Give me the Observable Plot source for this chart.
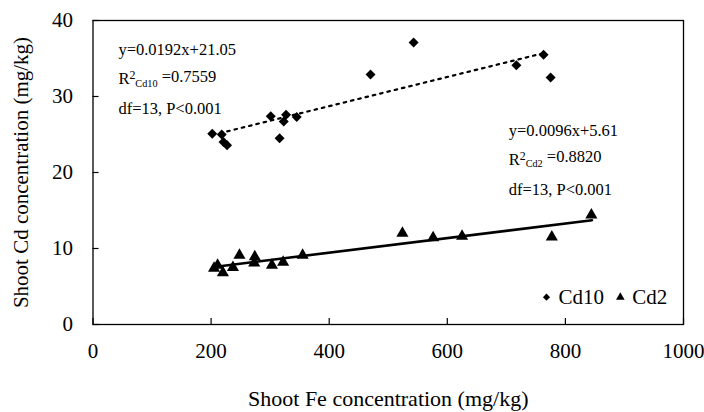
<!DOCTYPE html>
<html>
<head>
<meta charset="utf-8">
<script src="https://cdn.jsdelivr.net/npm/d3@7"></script>
<script src="https://cdn.jsdelivr.net/npm/@observablehq/plot@0.6"></script>
<style>
  html, body { margin: 0; padding: 0; background: #fff; }
  #chart svg { display: block; }
</style>
</head>
<body>
<div id="chart"></div>
<script>
// ---- data ----
const xTicks = [0, 200, 400, 600, 800, 1000];
const yTicks = [0, 10, 20, 30, 40];

const cd10Fe = [202, 218, 221, 227, 301, 316, 323, 327, 345, 470, 543, 717, 763, 775];
const cd10Cd = [25.1, 25.0, 24.0, 23.6, 27.4, 24.5, 26.7, 27.6, 27.3, 32.9, 37.1, 34.1, 35.5, 32.5];

const cd2Fe = [205, 211, 220, 237, 248, 273, 274, 303, 322, 355, 524, 576, 625, 777, 844];
const cd2Cd = [7.4, 7.8, 6.8, 7.5, 9.1, 8.1, 8.9, 7.8, 8.2, 9.1, 12.0, 11.4, 11.6, 11.5, 14.4];

const fit10 = {slope: 0.0192, intercept: 21.05, xRange: [215, 765]};
const fit2 = {slope: 0.0096, intercept: 5.61, xRange: [208, 845]};

const annot10Text = ["y=0.0192x+21.05", "R2Cd10 =0.7559", "df=13, P<0.001"];
const annot10X = [43, 43, 43];
const annot10Y = [36.1, 32.3, 28.4];
const annot2Text = ["y=0.0096x+5.61", "R2Cd2 =0.8820", "df=13, P<0.001"];
const annot2X = [704, 704, 704];
const annot2Y = [25.5, 21.7, 17.8];

const legendLabels = ["Cd10", "Cd2"];
const legendSymbols = ["diamond2", "triangle"];
const legendX = [768, 893];
const legendY = [3.6, 3.6];

// ---- build ----
const pts10 = cd10Fe.map((x, i) => ({x, y: cd10Cd[i]}));
const pts2 = cd2Fe.map((x, i) => ({x, y: cd2Cd[i]}));
const line10 = fit10.xRange.map(x => ({x, y: fit10.slope * x + fit10.intercept}));
const line2 = fit2.xRange.map(x => ({x, y: fit2.slope * x + fit2.intercept}));
const ann = [
  ...annot10Text.map((t, i) => ({t, x: annot10X[i], y: annot10Y[i]})),
  ...annot2Text.map((t, i) => ({t, x: annot2X[i], y: annot2Y[i]}))
];
const leg = legendLabels.map((t, i) => ({t, s: legendSymbols[i], x: legendX[i], y: legendY[i]}));

const W = 704, H = 412;
const mL = 92.5, mR = 21, mT = 20, mB = 88;
const innerW = W - mL - mR, innerH = H - mT - mB;
const FONT = "'Liberation Serif', 'Times New Roman', serif";

const plot = Plot.plot({
  width: W,
  height: H,
  marginLeft: mL,
  marginRight: mR,
  marginTop: mT,
  marginBottom: mB,
  style: {fontFamily: FONT, fontSize: "21px", color: "#000", background: "#fff"},
  x: {domain: [0, 1000]},
  y: {domain: [0, 40]},
  symbol: {domain: legendSymbols, range: legendSymbols},
  marks: [
    Plot.frame({stroke: "#000", strokeWidth: 1.3}),
    Plot.tickX(xTicks, {x: d => d, stroke: "#000", strokeWidth: 1.2, insetTop: innerH - 6}),
    Plot.tickY(yTicks, {y: d => d, stroke: "#000", strokeWidth: 1.2, insetRight: innerW - 6}),
    Plot.axisX(xTicks, {tickSize: 0, tickPadding: 19, fontSize: 21, tickFormat: d => String(d), label: null}),
    Plot.axisX({ticks: [], tickSize: 0, fontSize: 22, label: "Shoot Fe concentration (mg/kg)", labelAnchor: "center", labelOffset: 81, labelArrow: "none", dx: -8}),
    Plot.axisY(yTicks, {tickSize: 0, tickPadding: 20, fontSize: 21, tickFormat: d => String(d), label: "Shoot Cd concentration (mg/kg)", labelAnchor: "center", labelOffset: 80, labelArrow: "none"}),
    Plot.line(line10, {x: "x", y: "y", stroke: "#000", strokeWidth: 2.2, strokeDasharray: "2.5,5"}),
    Plot.line(line2, {x: "x", y: "y", stroke: "#000", strokeWidth: 2.6}),
    Plot.dot(pts10, {x: "x", y: "y", symbol: "diamond2", r: 4.5, fill: "#000", stroke: "none"}),
    Plot.dot(pts2, {x: "x", y: "y", symbol: "triangle", r: 4.5, fill: "#000", stroke: "none"}),
    Plot.text(ann, {x: "x", y: "y", text: "t", textAnchor: "start", fontSize: 16.5, fill: "#000"}),
    Plot.dot(leg, {x: "x", y: "y", symbol: "s", r: 3.2, fill: "#000", stroke: "none"}),
    Plot.text(leg, {x: "x", y: "y", text: "t", textAnchor: "start", dx: 12, fontSize: 21, fill: "#000"})
  ]
});

// rich text for R² labels (superscript 2, subscript series name)
d3.select(plot).selectAll("text").each(function () {
  const el = d3.select(this);
  if (el.selectAll("tspan").size() > 0) return;
  const s = el.text();
  const m = /^R2(Cd\d+) (=.*)$/.exec(s);
  if (!m) return;
  el.text(null);
  el.append("tspan").text("R");
  el.append("tspan").attr("dy", "-0.45em").attr("font-size", "0.72em").text("2");
  el.append("tspan").attr("dy", "0.75em").attr("font-size", "0.62em").text(m[1]);
  el.append("tspan").attr("dy", "-0.3em").text(" " + m[2]);
});

document.getElementById("chart").appendChild(plot);
</script>
</body>
</html>
